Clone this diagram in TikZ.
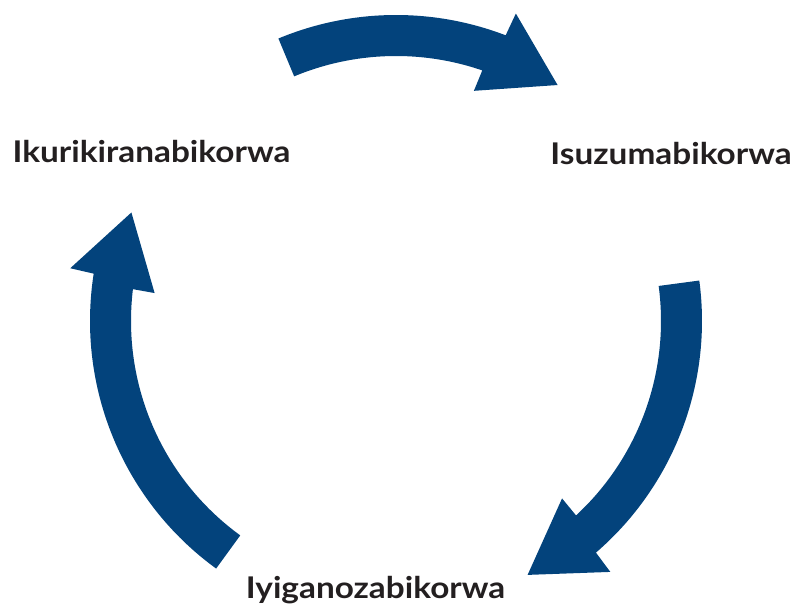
\documentclass[tikz,border=0pt]{standalone}
\usepackage{fontspec}
\setmainfont{Lato}
\usepackage{xcolor}
\usepackage{tikz}
\definecolor{cycleBlue}{HTML}{03437C}
\definecolor{labelBlack}{HTML}{231F20}
\tikzset{cycle-arrow/.style={fill=cycleBlue, draw=none}}
\tikzset{cycle-label/.style={anchor=base, inner sep=0, text=labelBlack, font=\fontsize{30}{36}\selectfont\bfseries}}
\newcommand{\widelabel}[1]{\scalebox{1.115}[1]{#1}}
\newcommand{\cyclearrow}[3] {
    \fill[cycle-arrow, shift={(hub)}] (#2:306) arc[start angle=#2, end angle=#3-1, radius=306]
        -- (#3-1.3:330) -- (#3-14.4:286) coordinate (tip#1) -- (#3+1.3:243) -- (#3+1:265)
        arc[start angle=#3+1, end angle=#2, radius=265] -- cycle;
}

\begin{document}
\begin{tikzpicture}[x=1bp, y=1bp]
    \useasboundingbox (0,0) rectangle (795,608);
    \coordinate (hub) at (396,287);

    \cyclearrow{1}{112.6}{70}
    \cyclearrow{2}{7.6}{-48.2}
    \cyclearrow{3}{234}{172.1}

    \node[cycle-label] (ikurikirana) at (151.5,445) {\widelabel{Ikurikiranabikorwa}};
    \node[cycle-label] (isuzuma) at (671,443) {\widelabel{Isuzumabikorwa}};
    \node[cycle-label] (iyiganoza) at (375.5,9) {\widelabel{Iyiganozabikorwa}};
\end{tikzpicture}
\end{document}
